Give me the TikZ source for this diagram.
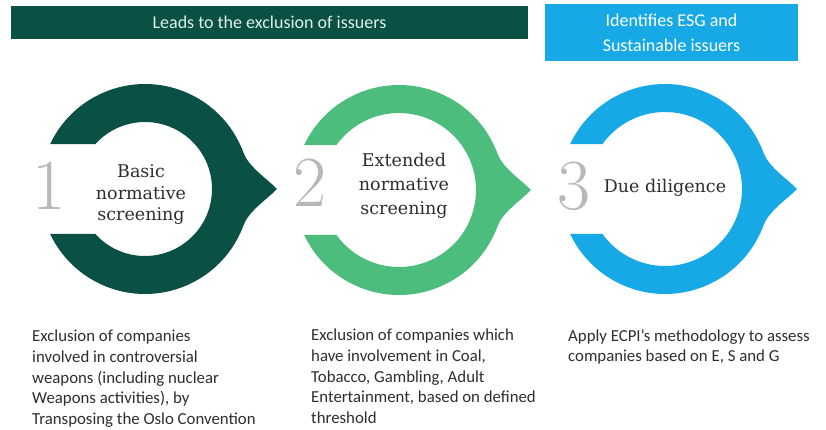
\documentclass[tikz,border=0pt]{standalone}
\usepackage{fontspec}
\newfontfamily\carlito{Carlito}
\newfontfamily\stagefont{DejaVu Serif}
\usetikzlibrary{calc}
\definecolor{darkteal}{HTML}{0B5045}
\definecolor{midgreen}{HTML}{4DBD7E}
\definecolor{skyblue}{HTML}{17A9E6}
\definecolor{numgray}{HTML}{B8B8B8}
\definecolor{labelgray}{HTML}{2E2E2E}
\definecolor{mint}{HTML}{DDF1EA}

\begin{document}
\begin{tikzpicture}[x=1pt,y=1pt,
    banner/.style={inner sep=0pt, align=center, font=\carlito\fontsize{18}{25}\selectfont},
    stage/.style={align=center, text=labelgray, font=\stagefont\fontsize{17.5}{21.5}\selectfont},
    digit/.style={inner sep=0pt, text=numgray, font=\fontsize{72}{72}\selectfont},
    blurb/.style={anchor=north west, inner sep=0pt, align=left, text=labelgray, font=\carlito\fontsize{16.8}{20.7}\selectfont}]
    \useasboundingbox (0,0) rectangle (826,429);
    \fill[white] (0,0) rectangle (826,429);
    % headers
    \node[banner, fill=darkteal, text=mint, minimum width=517, minimum height=33] (excl) at (269.5,406.5) {Leads to the exclusion of issuers};
    \node[banner, fill=skyblue, text=white, minimum width=253, minimum height=57] (esg) at (671.5,396.5) {Identifies ESG and\\Sustainable issuers};
    % rings with arrow tips
    \pgfmathsetmacro{\ao}{asin(45/105)}
    \foreach \cx/\cy/\ri/\col in {145/240/67/darkteal, 399/239/77/midgreen, 665/240/77/skyblue} {
      \begin{scope}[shift={(\cx,\cy)}]
        \pgfmathsetmacro{\ai}{asin(45/\ri)}
        \fill[\col] (180-\ao:105) arc[start angle=180-\ao, end angle=\ao-180, radius=105]
          -- (\ai-180:\ri) arc[start angle=\ai-180, end angle=180-\ai, radius=\ri] -- cycle;
        \fill[\col] (20:90) -- (20:105) .. controls (103.8,21.8) and (123.8,8.8) .. (132,0)
          .. controls (123.8,-8.8) and (103.8,-21.8) .. (-20:105) -- (-20:90) -- cycle;
      \end{scope}
    }
    % numbers and stage names
    \node[digit] (one) at (49,243) {1};
    \node[digit] (two) at (310,246) {2};
    \node[digit] (three) at (574,243) {3};
    \node[stage] (basic) at (141,234) {Basic\\normative\\screening};
    \node[stage, font=\stagefont\fontsize{17.5}{24}\selectfont] (extended) at (404,243) {Extended\\normative\\screening};
    \node[stage] (due) at (665,241) {Due diligence};
    % descriptions
    \node[blurb] (txtbasic) at (32,99) {Exclusion of companies\\involved in controversial\\weapons (including nuclear\\Weapons activities), by\\Transposing the Oslo Convention};
    \node[blurb] (txtextended) at (311,100) {Exclusion of companies which\\have involvement in Coal,\\Tobacco, Gambling, Adult\\Entertainment, based on defined\\threshold};
    \node[blurb] (txtdue) at (568,100) {Apply ECPI’s methodology to assess\\companies based on E, S and G};
  \end{tikzpicture}
\end{document}
